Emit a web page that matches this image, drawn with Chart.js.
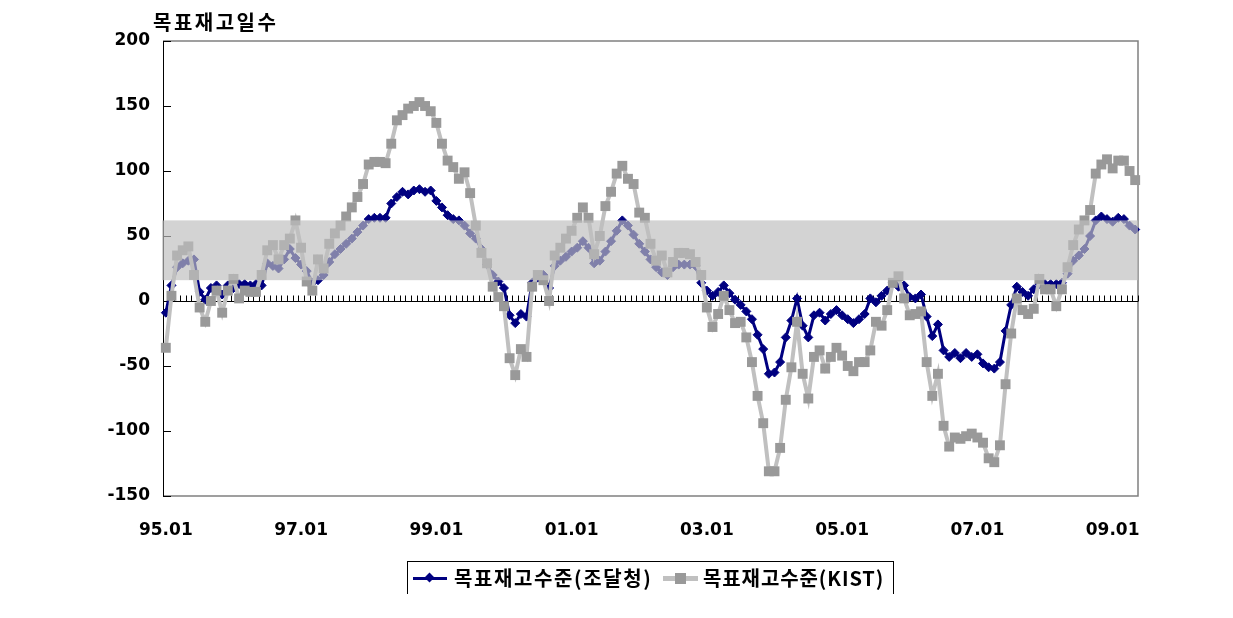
<!DOCTYPE html>
<html>
<head>
<meta charset="utf-8">
<script src="https://cdn.jsdelivr.net/npm/chart.js@4.4.1/dist/chart.umd.min.js"></script>
<style>
    body { margin: 0; background: #fff; }
    #wrap { position: relative; width: 1233px; height: 618px; }
    #yTitle {
        position: absolute; left: 153px; top: 11px;
        font: bold 20px "Noto Sans CJK KR", sans-serif; letter-spacing: 2.5px; line-height: 22px;
    }
    #legend {
        position: absolute; left: 407px; top: 561px; width: 485px; height: 32px;
        border: 1px solid #000; border-bottom: none;
        font: bold 20px "Noto Sans CJK KR", sans-serif; letter-spacing: 1.6px;
    }
    #legend .txt { position: absolute; top: 4px; line-height: 24px; white-space: nowrap; }
    #legend .line { position: absolute; }
    #legend .mark { position: absolute; }
</style>
</head>
<body>
<div id="wrap">
    <canvas id="chart" width="1233" height="618"></canvas>
    <div id="yTitle">목표재고일수</div>
    <div id="legend">
        <div class="line" style="left:5px;top:15px;width:34px;height:3px;background:#000080"></div>
        <div class="mark" style="left:18px;top:12px;width:7px;height:7px;background:#000080;transform:rotate(45deg)"></div>
        <div class="txt" style="left:46px">목표재고수준(조달청)</div>
        <div class="line" style="left:255px;top:14px;width:35px;height:5px;background:#c0c0c0"></div>
        <div class="mark" style="left:267px;top:11px;width:11px;height:11px;background:#999999"></div>
        <div class="txt" style="left:295px;letter-spacing:0.9px">목표재고수준(KIST)</div>
    </div>
</div>
<script>
// monthly categories 95.01 .. 09.05
const months = [];
for (let k = 0; k < 173; k++) {
    const yy = (95 + Math.floor(k / 12)) % 100;
    const mm = k % 12 + 1;
    months.push(String(yy).padStart(2, '0') + '.' + String(mm).padStart(2, '0'));
}
const tickLabels = ['95.01', '97.01', '99.01', '01.01', '03.01', '05.01', '07.01', '09.01'];

// 목표재고수준(조달청)
const pps = [
    -9, 12, 26, 29, 31, 32, 7, 1, 10, 12, 5, 12,
    10, 13, 13, 12, 13, 12, 29, 27, 25, 32, 40, 33,
    28, 23, 14, 16, 20, 30, 36, 40, 44, 48, 53, 58,
    63, 64, 64, 64, 75, 80, 84, 82, 85, 86, 84, 85,
    77, 72, 66, 63, 62, 58, 52, 48, 40, 28, 20, 15,
    10, -11, -17, -10, -12, 14, 18, 20, 10, 27, 31, 34,
    38, 41, 46, 41, 29, 31, 38, 46, 54, 62, 58, 51,
    44, 38, 32, 26, 22, 20, 26, 28, 28, 28, 27, 14,
    8, 4, 7, 12, 6, 1, -3, -8, -14, -26, -37, -56,
    -55, -47, -28, -15, 2, -19, -28, -11, -9, -15, -10, -7,
    -11, -14, -17, -14, -10, 2, -1, 4, 8, 14, 11, 12,
    3, 2, 5, -12, -27, -18, -38, -43, -40, -44, -40, -43,
    -41, -48, -51, -52, -47, -23, -3, 11, 7, 4, 9, 13,
    13, 13, 13, 14, 21, 31, 35, 40, 50, 62, 65, 63,
    61, 64, 63, 58, 55
];

// 목표재고수준(KIST)
const kist = [
    -36, 4, 35, 39, 42, 20, -5, -16, 0, 8, -9, 8,
    17, 2, 8, 7, 7, 20, 39, 43, 32, 43, 48, 62,
    41, 15, 8, 32, 25, 44, 52, 58, 65, 72, 80, 90,
    105, 107, 107, 106, 121, 139, 143, 148, 150, 153, 150, 146,
    137, 121, 108, 103, 94, 99, 83, 58, 37, 29, 11, 3,
    -4, -44, -57, -37, -43, 11, 20, 16, 0, 35, 41, 48,
    54, 64, 72, 64, 36, 50, 73, 84, 98, 104, 94, 90,
    68, 64, 44, 31, 35, 22, 30, 37, 37, 36, 30, 20,
    -5, -20, -10, 4, -7, -17, -16, -28, -47, -73, -94, -131,
    -131, -113, -76, -51, -16, -56, -75, -43, -38, -52, -43, -36,
    -42, -50, -54, -47, -47, -38, -16, -19, -7, 14, 19, 2,
    -11, -10, -8, -47, -73, -56, -96, -112, -105, -106, -104, -102,
    -105, -109, -121, -124, -111, -64, -25, 2, -7, -10, -6, 17,
    9, 9, -4, 9, 26, 43, 55, 62, 70, 98, 105, 109,
    102, 108, 108, 100, 93
];

// target band (gray zone)
const bandLow = 16;
const bandHigh = 62;

const tickFont = { family: '"DejaVu Sans", sans-serif', size: 17, weight: 'bold' };

// plot frame, zero axis with month ticks, y ticks
const framePlugin = {
    id: 'frame',
    beforeDatasetsDraw(chart) {
        const { ctx, chartArea: a, scales: { x, y } } = chart;
        ctx.save();
        ctx.strokeStyle = '#808080';
        ctx.lineWidth = 1.5;
        ctx.beginPath();
        ctx.moveTo(a.left, a.top);
        ctx.lineTo(a.right, a.top);
        ctx.lineTo(a.right, a.bottom);
        ctx.lineTo(a.left, a.bottom);
        ctx.stroke();

        ctx.strokeStyle = '#000';
        ctx.lineWidth = 1;
        ctx.beginPath();
        ctx.moveTo(a.left + 0.5, a.top);
        ctx.lineTo(a.left + 0.5, a.bottom);
        y.ticks.forEach(t => {
            const py = Math.round(y.getPixelForValue(t.value)) + 0.5;
            ctx.moveTo(a.left, py);
            ctx.lineTo(a.left + 8, py);
        });
        const y0 = Math.round(y.getPixelForValue(0)) + 0.5;
        ctx.moveTo(a.left, y0);
        ctx.lineTo(a.right, y0);
        const step = x.getPixelForValue(1) - x.getPixelForValue(0);
        const first = x.getPixelForValue(0) - step / 2;
        for (let i = 0; i <= months.length; i++) {
            const px = Math.round(first + i * step) + 0.5;
            ctx.moveTo(px, y0);
            ctx.lineTo(px, y0 - 6);
        }
        ctx.stroke();
        ctx.restore();
    },
    afterDatasetsDraw(chart) {
        const { ctx, chartArea: a, scales: { y } } = chart;
        const top = y.getPixelForValue(bandHigh);
        const bottom = y.getPixelForValue(bandLow);
        ctx.save();
        ctx.fillStyle = 'rgba(190,190,190,0.675)';
        ctx.fillRect(a.left - 1, top, a.right - a.left + 1, bottom - top);
        ctx.restore();
    }
};

new Chart(document.getElementById('chart'), {
    type: 'line',
    data: {
        labels: months,
        datasets: [{
            label: '목표재고수준(조달청)',
            data: pps,
            borderColor: '#000080',
            backgroundColor: '#000080',
            borderWidth: 3,
            pointStyle: 'rectRot',
            pointRadius: 4.5,
            pointBackgroundColor: '#000080',
            pointBorderColor: '#000080',
            pointBorderWidth: 1,
            tension: 0,
            order: 2
        }, {
            label: '목표재고수준(KIST)',
            data: kist,
            borderColor: '#c0c0c0',
            backgroundColor: '#999999',
            borderWidth: 4,
            pointStyle: 'rect',
            pointRadius: 7,
            pointBackgroundColor: '#999999',
            pointBorderWidth: 0,
            tension: 0,
            order: 1
        }]
    },
    options: {
        responsive: false,
        animation: false,
        events: [],
        layout: { padding: { left: 0, right: 95, top: 41, bottom: 0 } },
        plugins: {
            legend: { display: false },
            tooltip: { enabled: false }
        },
        scales: {
            x: {
                type: 'category',
                offset: true,
                grid: { display: false, drawTicks: false },
                border: { display: false },
                afterBuildTicks: scale => {
                    scale.ticks = scale.ticks.filter(t => tickLabels.includes(months[t.value]));
                },
                afterFit: scale => { scale.height = 122; },
                ticks: {
                    autoSkip: false,
                    maxRotation: 0,
                    padding: 24,
                    color: '#000',
                    font: tickFont,
                    callback: (val) => months[val]
                }
            },
            y: {
                min: -150,
                max: 200,
                grid: { display: false, drawTicks: false },
                border: { display: false },
                afterFit: scale => { scale.width = 163; },
                ticks: {
                    stepSize: 50,
                    padding: 13,
                    color: '#000',
                    font: tickFont
                }
            }
        }
    },
    plugins: [framePlugin]
});
</script>
</body>
</html>
